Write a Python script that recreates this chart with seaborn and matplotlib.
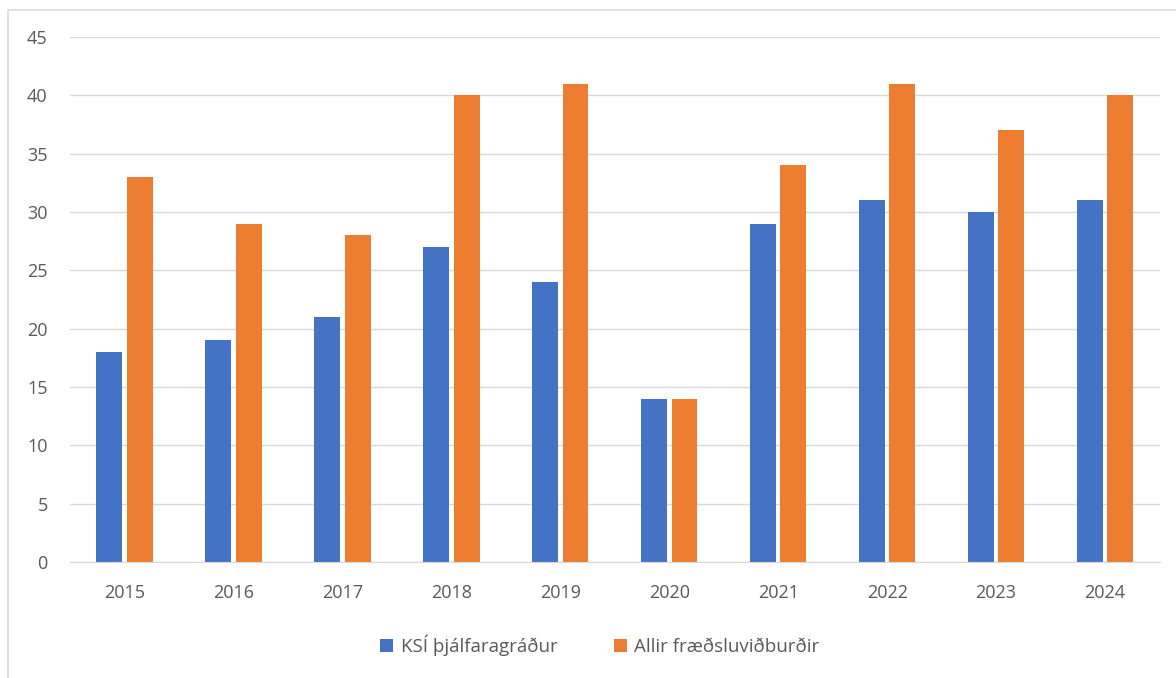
import numpy as np
import pandas as pd
import matplotlib
matplotlib.use('Agg')
import matplotlib.pyplot as plt
import seaborn as sns
from matplotlib.patches import Rectangle

years = ['2015', '2016', '2017', '2018', '2019', '2020', '2021', '2022', '2023', '2024']
ksi = [18, 19, 21, 27, 24, 14, 29, 31, 30, 31]
allir = [33, 29, 28, 40, 41, 14, 34, 41, 37, 40]
series = ['KSÍ þjálfaragráður', 'Allir fræðsluviðburðir']
colors = ['#4472C4', '#ED7D31']

df = pd.DataFrame({
    'ar': years * 2,
    'fjoldi': ksi + allir,
    'flokkur': [series[0]] * len(years) + [series[1]] * len(years),
})

sns.set_style('white')
plt.rcParams['font.family'] = ['Open Sans', 'DejaVu Sans']

fig = plt.figure(figsize=(11.76, 6.78), dpi=100)
ax = fig.add_axes([0.0595, 0.171, 0.9265, 0.7744])

sns.barplot(data=df, x='ar', y='fjoldi', hue='flokkur', palette=colors,
            width=0.56, gap=0.15, saturation=1, linewidth=0, ax=ax, legend=True)

ax.set_ylim(0, 45)
ax.set_xlim(-0.5, 9.5)
ax.set_yticks(np.arange(0, 46, 5))
ax.yaxis.grid(True, color='#D9D9D9', linewidth=1)
ax.set_axisbelow(True)
for s in ['top', 'right', 'left']:
    ax.spines[s].set_visible(False)
ax.spines['bottom'].set_color('#D9D9D9')
ax.tick_params(axis='both', length=0, labelsize=13, labelcolor='#595959')
ax.tick_params(axis='y', pad=16)
ax.tick_params(axis='x', pad=16)
ax.set_xlabel('')
ax.set_ylabel('')

ax.legend(loc='center', bbox_to_anchor=(0.51, 0.0485), bbox_transform=fig.transFigure,
          ncol=2, frameon=False, fontsize=13.5, labelcolor='#595959',
          handlelength=0.7, handleheight=0.7, columnspacing=3, handletextpad=0.4)

fig.patches.append(Rectangle((8 / 1176, -0.1), 1.2, 1 - 10 / 678 + 0.1,
                             transform=fig.transFigure, fill=False,
                             edgecolor='#D9D9D9', linewidth=1.2))

fig.savefig('out.png', dpi=100)
